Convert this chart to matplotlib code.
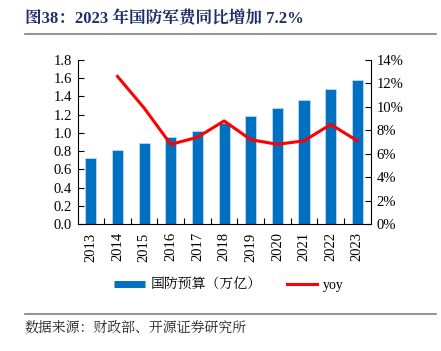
import matplotlib
matplotlib.use("Agg")
import matplotlib.pyplot as plt
from matplotlib.lines import Line2D
import numpy as np

plt.rcParams['font.family'] = ['Liberation Serif', 'Noto Serif CJK SC', 'Noto Sans CJK SC', 'DejaVu Sans']

years = ["2013", "2014", "2015", "2016", "2017", "2018", "2019", "2020", "2021", "2022", "2023"]
budget = [0.72, 0.81, 0.89, 0.95, 1.02, 1.11, 1.19, 1.27, 1.36, 1.48, 1.58]
yoy = [np.nan, 12.6, 9.9, 6.8, 7.4, 8.8, 7.2, 6.8, 7.1, 8.5, 7.1]
left_ticks = [0.0, 0.2, 0.4, 0.6, 0.8, 1.0, 1.2, 1.4, 1.6, 1.8]
right_ticks = [0, 2, 4, 6, 8, 10, 12, 14]

title = "图38：2023 年国防军费同比增加 7.2%"
source = "数据来源：财政部、开源证券研究所"
bar_label = "国防预算（万亿）"
line_label = "yoy"

W, H = 441, 351
fig = plt.figure(figsize=(W / 100, H / 100), dpi=100)

ax = fig.add_axes([77.5 / W, 1 - 224 / H, (370.7 - 77.5) / W, (224 - 60) / H])
x = np.arange(len(years))
ax.bar(x, budget, width=0.42, color="#0070C0", edgecolor="#BDD7EE", linewidth=0.6, zorder=2)
ax.set_xlim(-0.5, len(years) - 0.5)
ax.set_ylim(0, 1.8)
ax.set_yticks(left_ticks)
ax.set_yticklabels([f"{v:.1f}" for v in left_ticks], fontsize=10.5)
ax.set_xticks(x)
ax.set_xticklabels(years, rotation=90, fontsize=10.5)
ax.tick_params(axis='x', which='major', length=0, pad=6)
ax.set_xticks(np.arange(0.5, len(years) - 0.5, 1), minor=True)
ax.tick_params(axis='x', which='minor', direction='in', length=4, width=0.8)
ax.tick_params(axis='y', direction='in', length=4, width=0.8, pad=4)
ax.spines['top'].set_visible(False)
ax.spines['right'].set_visible(False)
for s in ['left', 'bottom']:
    ax.spines[s].set_linewidth(0.8)

ax2 = ax.twinx()
ax2.plot(x, yoy, color="#FF0000", linewidth=2.2, zorder=3)
ax2.set_ylim(0, 14)
ax2.set_yticks(right_ticks)
ax2.set_yticklabels([f"{v}%" for v in right_ticks], fontsize=10.5)
ax2.tick_params(axis='y', direction='in', length=4, width=0.8, pad=4)
ax2.spines['top'].set_visible(False)
ax2.spines['left'].set_visible(False)
ax2.spines['bottom'].set_visible(False)
ax2.spines['right'].set_linewidth(0.8)

handles = [Line2D([0], [0], color="#0070C0", linewidth=5, solid_capstyle='butt'),
           Line2D([0], [0], color="#FF0000", linewidth=2.2)]
fig.legend(handles, [bar_label, line_label], loc='center', bbox_to_anchor=(229 / W, 1 - 285 / H),
           ncol=2, frameon=False, fontsize=10, handlelength=2.2, columnspacing=1.8, handletextpad=0.4)

fig.text(25 / W, 1 - 19 / H, title, fontsize=12, fontweight='bold', color="#1F2F6B",
         ha='left', va='center')
fig.add_artist(Line2D([25 / W, 436 / W], [1 - 34 / H, 1 - 34 / H], color="#808080", linewidth=1.2))
fig.add_artist(Line2D([25 / W, 436 / W], [1 - 313.5 / H, 1 - 313.5 / H], color="#808080", linewidth=1.2))
fig.text(25 / W, 1 - 328 / H, source, fontsize=10, color="#222222", ha='left', va='center')

fig.savefig("out.png", dpi=100)
